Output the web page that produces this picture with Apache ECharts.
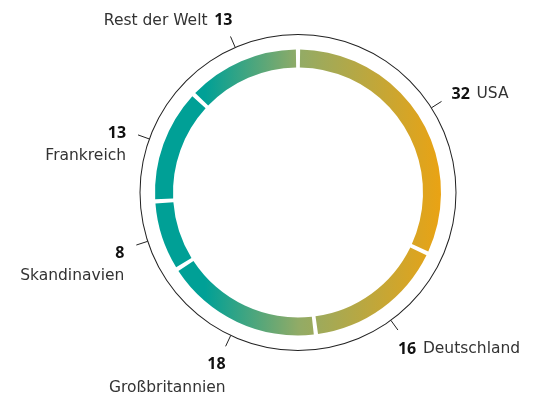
<!DOCTYPE html>
<html>
<head>
<meta charset="utf-8">
<script src="https://cdn.jsdelivr.net/npm/echarts@6/dist/echarts.min.js"></script>
<style>
  html, body { margin: 0; padding: 0; background: #fff; }
  #chart { width: 535px; height: 404px; }
</style>
</head>
<body>
<div id="chart"></div>
<script>
// Anteile nach Region (%)
const regions = ['USA', 'Deutschland', 'Großbritannien', 'Skandinavien', 'Frankreich', 'Rest der Welt'];
const shares = [32, 16, 18, 8, 13, 13];
// label layout: inline (number + name in one row) or stacked
const stacked = [false, false, true, true, true, false];

const CENTER = [298, 192.5];
const NAME_FONT = '"DejaVu Sans", "Open Sans", sans-serif';
const NUM_FONT = '"Open Sans", sans-serif';

// offsets of the label from the end of the tick line
const labelPos = [
  { dx: 10, dy: -7, align: 'left', va: 'middle' },
  { dx: 0, dy: 19, align: 'left', va: 'middle' },
  { dx: 0, dy: 7, align: 'right', va: 'top' },
  { dx: -12, dy: -3.5, align: 'right', va: 'top' },
  { dx: -12, dy: -13, align: 'right', va: 'top' },
  { dx: 2, dy: -16, align: 'right', va: 'middle' }
];

const ringColor = {
  type: 'linear',
  x: 205, y: 0, x2: 440, y2: 0,
  global: true,
  colorStops: [
    { offset: 0, color: '#00a096' },
    { offset: 0.4, color: '#92ab66' },
    { offset: 1, color: '#e9a314' }
  ]
};

const chart = echarts.init(document.getElementById('chart'), null, { renderer: 'canvas' });

const pieData = regions.map((name, i) => ({ name, value: shares[i] }));

const option = {
  animation: false,
  series: [
    {
      // outer thin circle
      type: 'pie',
      silent: true,
      center: CENTER,
      radius: [157.5, 158.5],
      label: { show: false },
      labelLine: { show: false },
      itemStyle: { color: '#222' },
      data: [{ value: 1 }]
    },
    {
      // ticks + labels
      type: 'pie',
      silent: true,
      center: CENTER,
      radius: [0, 158],
      startAngle: 90,
      avoidLabelOverlap: false,
      itemStyle: { color: 'rgba(0,0,0,0)' },
      label: {
        show: true,
        position: 'outside',
        formatter: (p) => {
          const sep = stacked[p.dataIndex] ? '\n' : '  ';
          if (p.dataIndex === 5) return '{name|' + p.name + '}  {num|' + p.value + '}';
          return '{num|' + p.value + '}' + sep + '{name|' + p.name + '}';
        },
        rich: {
          num: { fontFamily: NUM_FONT, fontSize: 16, fontWeight: 'bold', color: '#111', lineHeight: 23 },
          name: { fontFamily: NAME_FONT, fontSize: 15.5, fontWeight: 'normal', color: '#333', lineHeight: 23 }
        }
      },
      labelLine: {
        show: true,
        length: 12,
        length2: 0,
        lineStyle: { color: '#222', width: 1 }
      },
      labelLayout: (params) => {
        const pts = params.labelLinePoints;
        const end = pts[pts.length - 1];
        const o = labelPos[params.dataIndex];
        return {
          x: end[0] + o.dx,
          y: end[1] + o.dy,
          align: o.align,
          verticalAlign: o.va,
          labelLinePoints: pts
        };
      },
      data: pieData
    },
    {
      // gradient ring
      type: 'pie',
      silent: true,
      center: CENTER,
      radius: [125, 143],
      startAngle: 90,
      padAngle: 1.7,
      label: { show: false },
      labelLine: { show: false },
      itemStyle: { color: ringColor },
      data: pieData
    }
  ]
};

chart.setOption(option);
</script>
</body>
</html>
